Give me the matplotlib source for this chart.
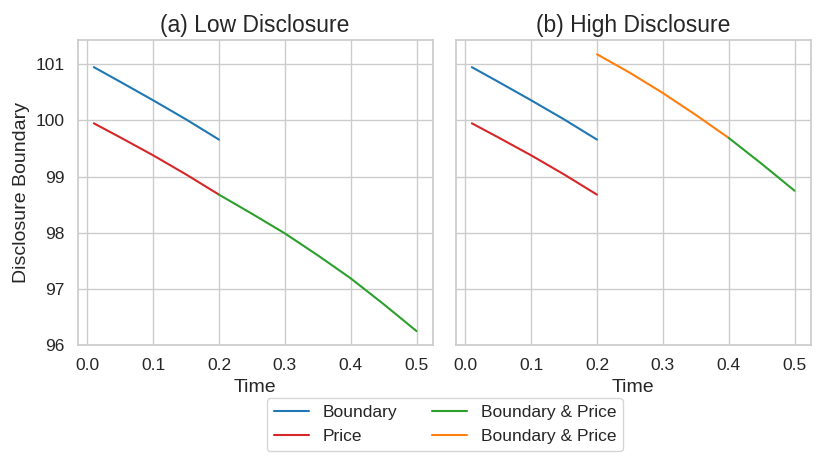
import matplotlib
matplotlib.use('Agg')
import matplotlib.pyplot as plt
import seaborn as sns

sns.set_theme(style='whitegrid')
plt.rcParams['font.family'] = ['Arial', 'Liberation Sans', 'DejaVu Sans']

# values
t_pre = [0.01, 0.05, 0.10, 0.15, 0.20]
boundary_pre = [100.95, 100.69, 100.36, 100.02, 99.66]
price_pre = [99.95, 99.70, 99.38, 99.04, 98.68]

t_low_post = [0.20, 0.25, 0.30, 0.35, 0.40, 0.45, 0.50]
both_low = [98.68, 98.34, 97.99, 97.60, 97.19, 96.73, 96.25]

t_high_mid = [0.20, 0.25, 0.30, 0.35, 0.40]
both_high_mid = [101.18, 100.85, 100.49, 100.10, 99.69]

t_high_end = [0.40, 0.45, 0.50]
both_high_end = [99.69, 99.23, 98.75]

fig, (ax1, ax2) = plt.subplots(1, 2, sharey=True, figsize=(8.18, 4.62), dpi=100)
fig.subplots_adjust(left=0.095, right=0.991, bottom=0.253, top=0.913, wspace=0.065)

# (a) low disclosure
ax1.plot(t_pre, boundary_pre, color='tab:blue', label='Boundary')
ax1.plot(t_pre, price_pre, color='tab:red', label='Price')
ax1.plot(t_low_post, both_low, color='tab:green', label='Boundary & Price')
ax1.set_title('(a) Low Disclosure', fontsize=16.5)
ax1.set_xlabel('Time', fontsize=14)
ax1.set_ylabel('Disclosure Boundary', fontsize=14)

# (b) high disclosure
ax2.plot(t_pre, boundary_pre, color='tab:blue')
ax2.plot(t_pre, price_pre, color='tab:red')
ax2.plot(t_high_mid, both_high_mid, color='tab:orange', label='Boundary & Price')
ax2.plot(t_high_end, both_high_end, color='tab:green')
ax2.set_title('(b) High Disclosure', fontsize=16.5)
ax2.set_xlabel('Time', fontsize=14)

ax1.set_ylim(96.0, 101.43)
for ax in (ax1, ax2):
    ax.set_xticks([0.0, 0.1, 0.2, 0.3, 0.4, 0.5])
    ax.tick_params(labelsize=12.5)

handles, labels = ax1.get_legend_handles_labels()
h2, l2 = ax2.get_legend_handles_labels()
fig.legend(handles + h2, labels + l2, loc='lower center', ncol=2,
           bbox_to_anchor=(0.544, 0.005), fontsize=12.5)

plt.savefig('out.png')
